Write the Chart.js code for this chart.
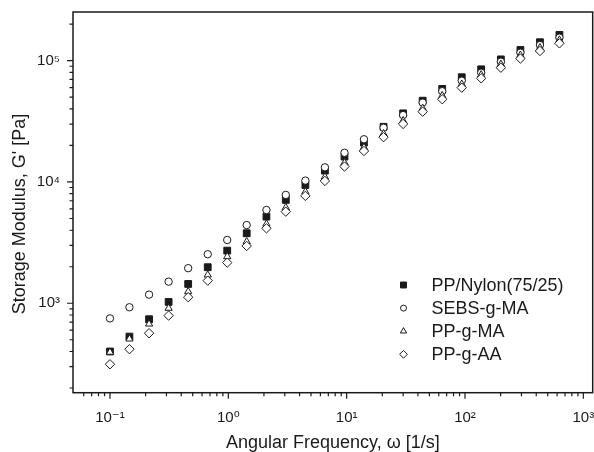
<!DOCTYPE html>
<html>
<head>
<meta charset="utf-8">
<script src="https://cdn.jsdelivr.net/npm/chart.js@4/dist/chart.umd.min.js"></script>
<style>
  html, body { margin: 0; padding: 0; background: #fff; }
  #wrap { width: 594px; height: 452px; }
</style>
</head>
<body>
<div id="wrap"><canvas id="chart"></canvas></div>
<script>
// angular frequency, rad/s
const FREQ = [0.1, 0.146, 0.214, 0.313, 0.458, 0.67, 0.979, 1.43, 2.1, 3.06, 4.48, 6.55,
              9.59, 14.0, 20.5, 30.0, 43.9, 64.2, 93.9, 137, 201, 294, 430, 628];

// storage modulus G', Pa
const PP_NYLON = [400, 531, 738, 1025, 1442, 1982, 2716, 3776, 5178, 7112, 9440, 12400,
                  16200, 21100, 28500, 36800, 46800, 58500, 73000, 84900, 102500, 122500, 141900, 163000];
const SEBS_G_MA = [750, 927, 1178, 1507, 1946, 2535, 3325, 4415, 5875, 7816, 10260, 13200,
                   17400, 22500, 28000, 35600, 45100, 56000, 68400, 79600, 98100, 116400, 134600, 154800];
const PP_G_MA = [395, 508, 675, 910, 1247, 1711, 2423, 3222, 4500, 6150, 8300, 11000,
                 14400, 19300, 25000, 32000, 40500, 51500, 64000, 76500, 93500, 111000, 128000, 148000];
const PP_G_AA = [314, 418, 566, 791, 1121, 1536, 2163, 2967, 4148, 5690, 7680, 10200,
                 13400, 18000, 23400, 30100, 38000, 48100, 59900, 71600, 87500, 104200, 120200, 139000];

const SERIES_LABELS = ['PP/Nylon(75/25)', 'SEBS-g-MA', 'PP-g-MA', 'PP-g-AA'];
const Y_TITLE = "Storage Modulus, G' [Pa]";
const X_TITLE = 'Angular Frequency, \u03C9 [1/s]';

const X_MIN = 0.0487, X_MAX = 1200;
const Y_MIN = 183, Y_MAX = 252000;

const INK = '#1a1a1a';
const FONT = "'Liberation Sans', Arial, 'DejaVu Sans', sans-serif";
const SUP = {'-': '\u207B', '0': '\u2070', '1': '\u00B9', '2': '\u00B2', '3': '\u00B3',
             '4': '\u2074', '5': '\u2075', '6': '\u2076', '7': '\u2077', '8': '\u2078', '9': '\u2079'};

function pts(ys) {
  return FREQ.map((x, i) => ({x: x, y: ys[i]}));
}

function decadeLabel(v) {
  const e = Math.log10(v);
  if (Math.abs(e - Math.round(e)) > 1e-6) return '';
  return '10' + String(Math.round(e)).split('').map(c => SUP[c]).join('');
}

Chart.defaults.font.family = FONT;
Chart.defaults.color = INK;

const styles = [
  {pointStyle: 'rect',     radius: 4.8, bg: INK,    legendR: 4.2, order: 4},
  {pointStyle: 'circle',   radius: 3.7, bg: '#fff', legendR: 3.0, order: 3},
  {pointStyle: 'triangle', radius: 4.2, bg: '#fff', legendR: 3.6, order: 2},
  {pointStyle: 'rectRot',  radius: 4.7, bg: '#fff', legendR: 3.9, order: 1}
];

const seriesData = [PP_NYLON, SEBS_G_MA, PP_G_MA, PP_G_AA];

const datasets = seriesData.map((ys, i) => ({
  label: SERIES_LABELS[i],
  data: pts(ys),
  showLine: false,
  pointStyle: styles[i].pointStyle,
  pointRadius: styles[i].radius,
  pointBackgroundColor: styles[i].bg,
  pointBorderColor: INK,
  pointBorderWidth: 1,
  order: styles[i].order
}));

// frame, log ticks (long at decades, short in between), y title and the in-plot legend
const framePlugin = {
  id: 'frame',
  afterDraw(chart) {
    const {ctx, chartArea: a} = chart;
    ctx.save();
    ctx.strokeStyle = INK;
    ctx.lineWidth = 1.5;
    ctx.strokeRect(a.left, a.top, a.right - a.left, a.bottom - a.top);

    ctx.lineWidth = 1.2;
    const nice = v => {
      const e = Math.floor(Math.log10(v) + 1e-9);
      const s = v / Math.pow(10, e);
      return Math.abs(s - Math.round(s)) < 1e-6 ? Math.round(s) : 0;
    };
    const xs = chart.scales.x, ys = chart.scales.y;
    ctx.beginPath();
    xs.ticks.forEach(t => {
      const s = nice(t.value);
      if (!s) return;
      const px = xs.getPixelForValue(t.value);
      if (px < a.left + 1 || px > a.right - 1) return;
      ctx.moveTo(px, a.bottom);
      ctx.lineTo(px, a.bottom + (s === 1 ? 6 : 3.5));
    });
    ys.ticks.forEach(t => {
      const s = nice(t.value);
      if (!s) return;
      const py = ys.getPixelForValue(t.value);
      if (py < a.top + 1 || py > a.bottom - 1) return;
      ctx.moveTo(a.left, py);
      ctx.lineTo(a.left - (s === 1 ? 6 : 3.5), py);
    });
    ctx.stroke();

    // y title sits a little below the middle of the axis in the original
    ctx.fillStyle = INK;
    ctx.font = '18px ' + FONT;
    ctx.textAlign = 'center';
    ctx.textBaseline = 'middle';
    ctx.translate(20, 214);
    ctx.rotate(-Math.PI / 2);
    ctx.fillText(Y_TITLE, 0, 0);
    ctx.setTransform(1, 0, 0, 1, 0, 0);

    // legend
    const lx = 403.5, tx = 431.5, ly0 = 285, dy = 23.1;
    ctx.textAlign = 'left';
    chart.data.datasets.forEach((ds, i) => {
      const y = ly0 + i * dy;
      ctx.fillStyle = styles[i].bg;
      ctx.strokeStyle = INK;
      ctx.lineWidth = 1;
      Chart.helpers.drawPoint(ctx, {pointStyle: styles[i].pointStyle, radius: styles[i].legendR, rotation: 0, borderWidth: 1}, lx, y);
      ctx.fillStyle = INK;
      ctx.fillText(ds.label, tx, y + 1);
    });
    ctx.restore();
  }
};

new Chart(document.getElementById('chart'), {
  type: 'scatter',
  data: { datasets: datasets },
  options: {
    responsive: true,
    maintainAspectRatio: false,
    animation: false,
    layout: { autoPadding: false, padding: { top: 12, right: 1.3, left: 0, bottom: 0 } },
    scales: {
      x: {
        type: 'logarithmic',
        min: X_MIN,
        max: X_MAX,
        afterFit: (scale) => {
          scale.height = 59.3;
          scale.paddingLeft = 0;
          scale.paddingRight = 0;
        },
        grid: { display: false, drawTicks: false },
        border: { display: false },
        ticks: {
          autoSkip: false,
          maxRotation: 0,
          padding: 16,
          font: { size: 15 },
          callback: (v) => decadeLabel(v)
        },
        title: {
          display: true,
          text: X_TITLE,
          font: { size: 18 },
          padding: { top: 0, bottom: -2 }
        }
      },
      y: {
        type: 'logarithmic',
        min: Y_MIN,
        max: Y_MAX,
        afterFit: (scale) => {
          scale.width = 73;
          scale.paddingTop = 0;
          scale.paddingBottom = 0;
        },
        grid: { display: false, drawTicks: false },
        border: { display: false },
        ticks: {
          autoSkip: false,
          padding: 13,
          font: { size: 15 },
          callback: (v) => decadeLabel(v)
        },
        title: { display: false }
      }
    },
    plugins: {
      legend: { display: false },
      tooltip: { enabled: false }
    }
  },
  plugins: [framePlugin]
});
</script>
</body>
</html>
